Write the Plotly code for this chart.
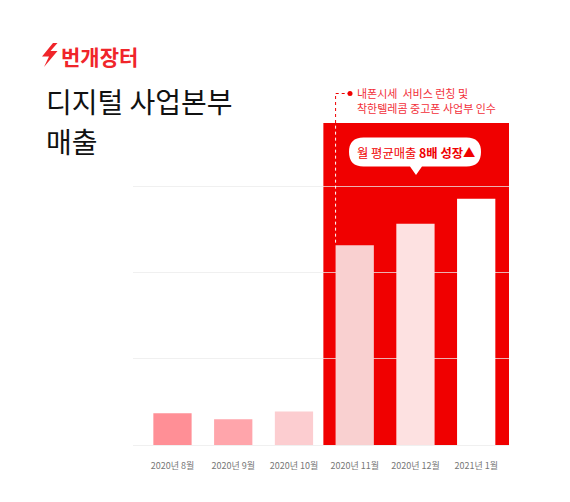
import plotly.graph_objects as go

# monthly sales (relative units)
months = ["2020년 8월", "2020년 9월", "2020년 10월", "2020년 11월", "2020년 12월", "2021년 1월"]
sales = [0.37, 0.30, 0.39, 2.32, 2.57, 2.86]
bar_colors = ["#ff8f96", "#ffa5ab", "#fccdd0", "#f9d0d0", "#fde1e1", "#ffffff"]

title_lines = ["디지털 사업본부", "매출"]
note_lines = ["내폰시세  서비스 런칭 및", "착한텔레콤 중고폰 사업부 인수"]

RED = "#f00000"
KR = "Noto Sans CJK KR, Noto Sans, sans-serif"

W, H = 570, 502
OFF = 8  # page body margin
L, R, T, B = 125, 69, 115, 65
x_range = [-0.65, 5.54]
y_range = [0, 3.74]
bargap = 0.37


# page pixel -> paper helpers for the decoration pieces
def px(x):
    return (x - OFF - L) / (W - L - R)


def py(y):
    return (H - B - (y - OFF)) / (H - T - B)


fig = go.Figure()
fig.add_trace(go.Bar(
    x=list(range(len(months))),
    y=sales,
    marker=dict(color=bar_colors, line=dict(width=0)),
    hoverinfo="skip",
))

# red highlight block behind the last three months
fig.add_shape(type="rect", xref="x", yref="y", x0=2.484, x1=x_range[1],
              y0=0, y1=y_range[1], fillcolor=RED, line=dict(width=0), layer="below")

# dashed leader line starting at the left edge of the 2020-11 bar
lead_x = 3 - (1 - bargap) / 2
fig.add_shape(type="line", xref="x", yref="y", x0=lead_x, x1=lead_x,
              y0=sales[3] + 0.03, y1=y_range[1],
              line=dict(color="white", width=1, dash="dot"))
fig.add_shape(type="line", xref="x", yref="paper", x0=lead_x, x1=lead_x,
              y0=1, y1=py(93.5), line=dict(color=RED, width=1, dash="dot"))
fig.add_shape(type="line", xref="paper", yref="paper", x0=px(335.7), x1=px(348),
              y0=py(93.5), y1=py(93.5), line=dict(color=RED, width=1, dash="dot"))
fig.add_shape(type="circle", xref="paper", yref="paper",
              x0=px(347.5), x1=px(352.5), y0=py(91), y1=py(96),
              fillcolor=RED, line=dict(width=0))
for i, line in enumerate(note_lines):
    fig.add_annotation(xref="paper", yref="paper", x=px(355), y=py(93.5 + 14.5 * i),
                       xanchor="left", yanchor="middle", showarrow=False,
                       text=line, font=dict(family=KR, size=11, color="#f2303a"))

# speech bubble
bl, br, bt, bb, r = 349, 481, 137.5, 166.5, 14.5
tip_x, tip_y = 416, 175
pts = [
    f"M{px(bl + r)},{py(bt)}",
    f"L{px(br - r)},{py(bt)}",
    f"Q{px(br)},{py(bt)} {px(br)},{py(bt + r)}",
    f"Q{px(br)},{py(bb)} {px(br - r)},{py(bb)}",
    f"L{px(tip_x + 6)},{py(bb)}",
    f"L{px(tip_x)},{py(tip_y)}",
    f"L{px(tip_x - 6)},{py(bb)}",
    f"L{px(bl + r)},{py(bb)}",
    f"Q{px(bl)},{py(bb)} {px(bl)},{py(bt + r)}",
    f"Q{px(bl)},{py(bt)} {px(bl + r)},{py(bt)}",
    "Z",
]
fig.add_shape(type="path", xref="paper", yref="paper", path=" ".join(pts),
              fillcolor="white", line=dict(width=0), layer="above")
fig.add_annotation(xref="paper", yref="paper", x=px((bl + br) / 2 + 1), y=py(152.5),
                   xanchor="center", yanchor="middle", showarrow=False,
                   text="월 평균매출 <b>8배 성장</b>▲",
                   font=dict(family=KR, size=12.3, color=RED))

# logo: lightning bolt + wordmark
bolt = [(53, 43), (42, 56.5), (49, 56.5), (44, 67), (57.5, 51), (50.5, 51), (57.5, 43)]
bolt_path = "M" + " L".join(f"{px(a)},{py(b)}" for a, b in bolt) + " Z"
fig.add_shape(type="path", xref="paper", yref="paper", path=bolt_path,
              fillcolor="#f0252a", line=dict(width=0))
fig.add_annotation(xref="paper", yref="paper", x=px(59), y=py(56),
                   xanchor="left", yanchor="middle", showarrow=False,
                   text="<b>번개장터</b>", font=dict(family=KR, size=21, color="#f0252a"))

# title, one annotation per line
for i, line in enumerate(title_lines):
    fig.add_annotation(xref="paper", yref="paper", x=px(44), y=py(101 + 39.5 * i),
                       xanchor="left", yanchor="middle", showarrow=False,
                       text=line, font=dict(family=KR, size=28, color="#111111"))

fig.update_layout(
    width=W, height=H,
    margin=dict(l=L, r=R, t=T, b=B),
    paper_bgcolor="white",
    plot_bgcolor="white",
    bargap=bargap,
    showlegend=False,
)
fig.update_xaxes(
    range=x_range,
    tickmode="array",
    tickvals=list(range(len(months))),
    ticktext=months,
    ticks="outside",
    ticklen=12,
    tickcolor="rgba(0,0,0,0)",
    tickfont=dict(family=KR, size=9, color="#777777"),
    showgrid=False,
    zeroline=False,
    showline=False,
)
fig.update_yaxes(
    range=y_range,
    dtick=1,
    showticklabels=False,
    showgrid=True,
    gridcolor="rgba(235,235,235,0.75)",
    gridwidth=1,
    zeroline=True,
    zerolinecolor="rgba(235,235,235,0.75)",
    zerolinewidth=1,
)

fig.write_html("out.html")
